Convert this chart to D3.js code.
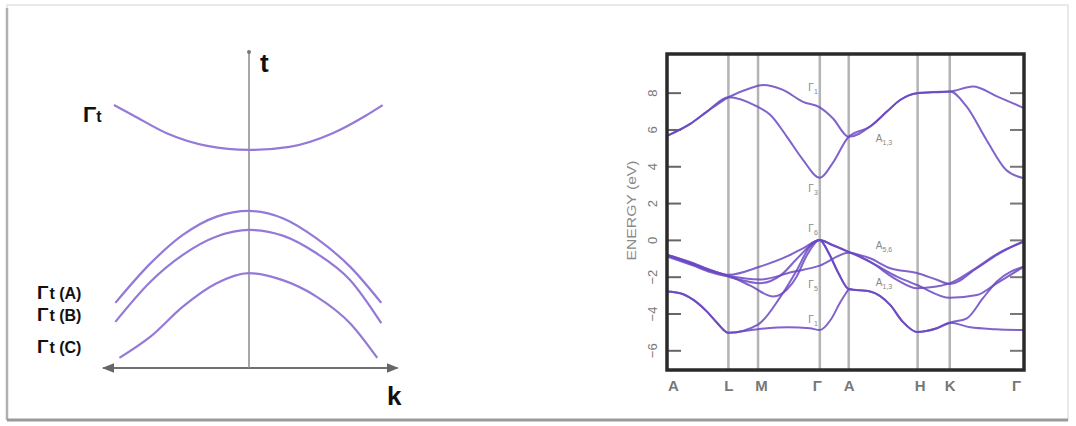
<!DOCTYPE html>
<html>
<head>
<meta charset="utf-8">
<script src="https://cdn.jsdelivr.net/npm/d3@7"></script>
<style>
  body { margin: 0; background: #fff; }
  text { font-family: "Liberation Sans", Arial, sans-serif; }
</style>
</head>
<body>
<div class="chart"></div>
<script>
// ---- data ----

// left panel: schematic bands, [k, t]
var gammaTop = [[-1.0, 8.32], [-0.86, 8.0], [-0.61, 7.43], [-0.31, 7.03], [0, 6.9], [0.30, 7.0], [0.62, 7.43], [0.87, 8.0], [0.99, 8.32]];
var gammaA = [[-0.99, 2.06], [-0.73, 3.31], [-0.49, 4.21], [-0.24, 4.79], [0, 4.97], [0.25, 4.74], [0.5, 4.1], [0.75, 3.2], [0.98, 2.06]];
var gammaB = [[-0.99, 1.46], [-0.73, 2.73], [-0.49, 3.58], [-0.24, 4.16], [0, 4.37], [0.25, 4.19], [0.5, 3.63], [0.75, 2.78], [0.98, 1.42]];
var gammaC = [[-0.96, 0.32], [-0.73, 0.99], [-0.49, 1.94], [-0.24, 2.68], [0, 3.0], [0.25, 2.78], [0.5, 2.26], [0.75, 1.41], [0.95, 0.32]];
var leftLabels = ["(A)", "(B)", "(C)"];

// right panel: band structure, [k-path position, energy eV]
var kPos = [0, 1.72, 2.55, 4.28, 5.09, 7.02, 7.92, 10];
var kLabels = ["A", "L", "M", "Γ", "A", "H", "K", "Γ"];
var energyTicks = [-6, -4, -2, 0, 2, 4, 6, 8];

var cond1 = [[0, 5.65], [0.65, 6.3], [1.12, 6.97], [1.72, 7.75], [2.33, 8.24], [2.69, 8.42], [3.25, 8.15], [3.81, 7.5], [4.28, 7.2], [4.65, 6.6], [5.09, 5.6], [5.69, 6.16], [6.16, 6.97], [6.53, 7.6], [7.0, 7.97], [7.93, 8.06], [8.57, 8.33], [9.24, 7.8], [10, 7.16]];
var cond2 = [[0, 5.65], [0.65, 6.3], [1.12, 6.97], [1.72, 7.75], [2.52, 7.25], [2.89, 6.8], [3.36, 5.6], [3.81, 4.35], [4.28, 3.37], [4.65, 4.2], [5.09, 5.6], [5.69, 6.16], [6.16, 6.97], [6.53, 7.6], [7.0, 7.97], [7.93, 8.06], [8.39, 7.25], [8.95, 5.43], [9.5, 3.8], [10, 3.35]];
var val1 = [[0, -0.8], [0.74, -1.27], [1.21, -1.63], [1.72, -1.9], [2.61, -1.45], [3.36, -0.9], [3.82, -0.45], [4.28, 0], [4.6, -0.25], [5.09, -0.65], [5.69, -1.0], [6.25, -1.54], [7.0, -1.8], [7.56, -2.17], [7.93, -2.4], [8.68, -1.54], [9.24, -0.82], [10, -0.05]];
var val2 = [[0, -0.85], [0.74, -1.35], [1.21, -1.7], [1.72, -1.95], [2.61, -2.15], [3.5, -1.75], [4.28, -1.4], [5.09, -0.7], [5.69, -1.2], [6.44, -2.17], [7.0, -2.63], [7.5, -2.55], [7.93, -2.35], [8.6, -1.6], [9.3, -0.7], [10, -0.1]];
var val3 = [[0, -0.8], [0.74, -1.3], [1.21, -1.65], [1.72, -1.95], [2.35, -2.5], [2.98, -3.08], [3.36, -2.7], [3.63, -2.0], [3.9, -0.9], [4.28, 0], [4.5, -0.6], [4.8, -1.8], [5.09, -2.67], [5.69, -2.8], [6.25, -3.53], [6.6, -4.44], [7.0, -5.0], [7.56, -4.8], [7.93, -4.5], [8.4, -4.26], [8.85, -3.17], [9.24, -2.26], [10, -1.45]];
var val4 = [[0, -0.9], [0.74, -1.4], [1.21, -1.75], [1.72, -2.0], [2.61, -2.35], [3.2, -1.9], [3.7, -0.9], [4.28, 0], [4.6, -0.25], [5.09, -0.65], [5.69, -1.2], [6.44, -2.0], [7.0, -2.45], [7.93, -3.15], [8.68, -3.0], [9.2, -2.4], [10, -1.45]];
var val5 = [[0, -2.8], [0.37, -2.9], [0.74, -3.26], [1.12, -3.9], [1.4, -4.5], [1.72, -5.05], [2.55, -4.6], [3.18, -3.08], [3.64, -1.63], [4.0, -0.36], [4.28, 0], [4.5, -0.6], [4.8, -1.8], [5.09, -2.67], [5.69, -2.8], [6.25, -3.53], [6.6, -4.44], [7.0, -5.0], [7.56, -4.8], [7.93, -4.5], [8.5, -4.75], [9.2, -4.85], [10, -4.9]];
var val6 = [[0, -2.8], [0.37, -2.9], [0.74, -3.26], [1.12, -3.9], [1.4, -4.5], [1.72, -5.05], [2.55, -4.85], [3.4, -4.75], [4.0, -4.8], [4.28, -4.9], [4.6, -4.3], [4.85, -3.4], [5.09, -2.67]];

var bands = [cond1, cond2, val1, val2, val3, val4, val5, val6];

// small symmetry labels inside the plot
var pointLabels = [
  { k: 3.96, e: 8.1, name: "Γ", sub: "1" },
  { k: 3.96, e: 2.6, name: "Γ", sub: "3" },
  { k: 3.96, e: 0.45, name: "Γ", sub: "6" },
  { k: 3.96, e: -2.6, name: "Γ", sub: "5" },
  { k: 3.96, e: -4.5, name: "Γ", sub: "1" },
  { k: 5.85, e: 5.3, name: "A", sub: "1,3" },
  { k: 5.85, e: -0.5, name: "A", sub: "5,6" },
  { k: 5.85, e: -2.5, name: "A", sub: "1,3" }
];

// ---- svg ----
var svgWidth = 1076;
var svgHeight = 426;

var svg = d3.select(".chart").append("svg")
  .attr("width", svgWidth)
  .attr("height", svgHeight);

// outer photo frame with a soft shadow
svg.append("rect").attr("x", 7).attr("y", 5).attr("width", 1061).attr("height", 415)
  .attr("fill", "none").attr("stroke", "#e2e2e2").attr("stroke-width", 1.5);
svg.append("line").attr("x1", 7).attr("x2", 7).attr("y1", 8).attr("y2", 420)
  .attr("stroke", "#b0b0b0").attr("stroke-width", 2.5);
svg.append("line").attr("x1", 7).attr("x2", 1068).attr("y1", 420).attr("y2", 420)
  .attr("stroke", "#9a9a9a").attr("stroke-width", 3);

// ===== left panel =====
var xL = d3.scaleLinear().domain([-1, 1]).range([114, 384]);
var yL = d3.scaleLinear().domain([0, 10]).range([368, 52]);

var left = svg.append("g");

var defs = svg.append("defs");
defs.append("marker").attr("id", "arrow").attr("viewBox", "0 0 10 10")
  .attr("refX", 9).attr("refY", 5).attr("markerWidth", 6).attr("markerHeight", 6)
  .attr("orient", "auto-start-reverse")
  .append("path").attr("d", "M0,1 L10,5 L0,9 z").attr("fill", "#666");

left.append("line")
  .attr("x1", xL(-1.08)).attr("x2", xL(1.1))
  .attr("y1", yL(0)).attr("y2", yL(0))
  .attr("stroke", "#707070").attr("stroke-width", 2)
  .attr("marker-start", "url(#arrow)").attr("marker-end", "url(#arrow)");

left.append("line")
  .attr("x1", xL(0)).attr("x2", xL(0))
  .attr("y1", yL(0)).attr("y2", yL(10))
  .attr("stroke", "#8a8a8a").attr("stroke-width", 1.5);
left.append("circle").attr("cx", xL(0)).attr("cy", yL(10)).attr("r", 2).attr("fill", "#777");

var lineL = d3.line()
  .x(d => xL(d[0]))
  .y(d => yL(d[1]))
  .curve(d3.curveMonotoneX);

left.selectAll("path.lband")
  .data([gammaTop, gammaA, gammaB, gammaC])
  .enter()
  .append("path")
  .attr("class", "lband")
  .attr("d", lineL)
  .attr("fill", "none")
  .attr("stroke", "#9479d8")
  .attr("stroke-width", 2.2);

left.append("text").attr("x", 260).attr("y", 72)
  .attr("font-size", 26).attr("font-weight", "bold").attr("fill", "#111").text("t");
left.append("text").attr("x", 387).attr("y", 405)
  .attr("font-size", 26).attr("font-weight", "bold").attr("fill", "#111").text("k");

// Γt label at the upper band
var gt = left.append("text").attr("x", 83).attr("y", 122).attr("font-weight", "bold").attr("fill", "#111");
gt.append("tspan").attr("font-size", 22).text("Γ");
gt.append("tspan").attr("font-size", 16).text("t");

var labelBase = [299, 321, 353];
left.selectAll("text.glab")
  .data(leftLabels)
  .enter()
  .append("text")
  .attr("class", "glab")
  .attr("x", 37)
  .attr("y", (d, i) => labelBase[i])
  .attr("font-weight", "bold")
  .attr("fill", "#111")
  .each(function(d) {
    var t = d3.select(this);
    t.append("tspan").attr("font-size", 19).text("Γ");
    t.append("tspan").attr("font-size", 16).attr("dx", 1).text("t " + d);
  });

// ===== right panel =====
var xR = d3.scaleLinear().domain([0, 10]).range([667, 1024]);
var yR = d3.scaleLinear().domain([-7.07, 10.1]).range([370, 54]);

var right = svg.append("g");

// vertical symmetry lines
right.selectAll("line.kline")
  .data(kPos.slice(1, -1))
  .enter()
  .append("line")
  .attr("class", "kline")
  .attr("x1", d => xR(d)).attr("x2", d => xR(d))
  .attr("y1", yR(10.1)).attr("y2", yR(-7.07))
  .attr("stroke", "#b4b4b4").attr("stroke-width", 2.5);

// left axis: inside ticks, rotated labels
var leftAxis = d3.axisLeft(yR).tickValues(energyTicks).tickSize(-14).tickPadding(12);
var gLeft = right.append("g").attr("transform", `translate(${xR(0)},0)`).call(leftAxis);
gLeft.select(".domain").remove();
gLeft.selectAll(".tick line").attr("stroke", "#666").attr("stroke-width", 2);
gLeft.selectAll(".tick text")
  .attr("transform", "rotate(-90)")
  .attr("x", 0).attr("y", -10)
  .attr("dy", "0")
  .attr("text-anchor", "middle")
  .attr("font-size", 13)
  .attr("fill", "#777");

var rightAxis = d3.axisRight(yR).tickValues(energyTicks).tickSize(-14).tickFormat("");
var gRight = right.append("g").attr("transform", `translate(${xR(10)},0)`).call(rightAxis);
gRight.select(".domain").remove();
gRight.selectAll(".tick line").attr("stroke", "#777").attr("stroke-width", 2);

// bottom axis: symmetry point names
var bottomAxis = d3.axisBottom(xR).tickValues(kPos).tickSize(0).tickPadding(10)
  .tickFormat((d, i) => kLabels[i]);
var gBottom = right.append("g").attr("transform", `translate(0,${yR(-7.07)})`).call(bottomAxis);
gBottom.select(".domain").remove();
gBottom.selectAll(".tick text")
  .attr("font-size", 15).attr("font-weight", "bold").attr("fill", "#777")
  .attr("dx", (d, i) => i === 0 ? 6 : (i === kPos.length - 1 ? -8 : (i === 2 ? 3 : (i === 3 ? -3 : (i === 5 ? 2 : 0)))));

right.append("text")
  .attr("transform", `translate(636,${yR(1.6)}) rotate(-90)`)
  .attr("text-anchor", "middle")
  .attr("font-size", 13)
  .attr("fill", "#8a8a8a")
  .attr("textLength", 100)
  .attr("lengthAdjust", "spacingAndGlyphs")
  .text("ENERGY (eV)");

var lineR = d3.line()
  .x(d => xR(d[0]))
  .y(d => yR(d[1]))
  .curve(d3.curveMonotoneX);

right.selectAll("path.band")
  .data(bands)
  .enter()
  .append("path")
  .attr("class", "band")
  .attr("d", lineR)
  .attr("fill", "none")
  .attr("stroke", "#6a48c2")
  .attr("stroke-width", 2)
  .attr("opacity", 0.85);

right.selectAll("text.plab")
  .data(pointLabels)
  .enter()
  .append("text")
  .attr("class", "plab")
  .attr("x", d => xR(d.k))
  .attr("y", d => yR(d.e))
  .attr("font-size", 10)
  .attr("fill", "#888")
  .each(function(d) {
    var t = d3.select(this);
    t.append("tspan").text(d.name);
    t.append("tspan").attr("font-size", 7).attr("dy", 3).text(d.sub);
  });

// frame
right.append("rect")
  .attr("x", xR(0)).attr("y", yR(10.1))
  .attr("width", xR(10) - xR(0)).attr("height", yR(-7.07) - yR(10.1))
  .attr("fill", "none").attr("stroke", "#2a2a2a").attr("stroke-width", 3.5);
</script>
</body>
</html>
